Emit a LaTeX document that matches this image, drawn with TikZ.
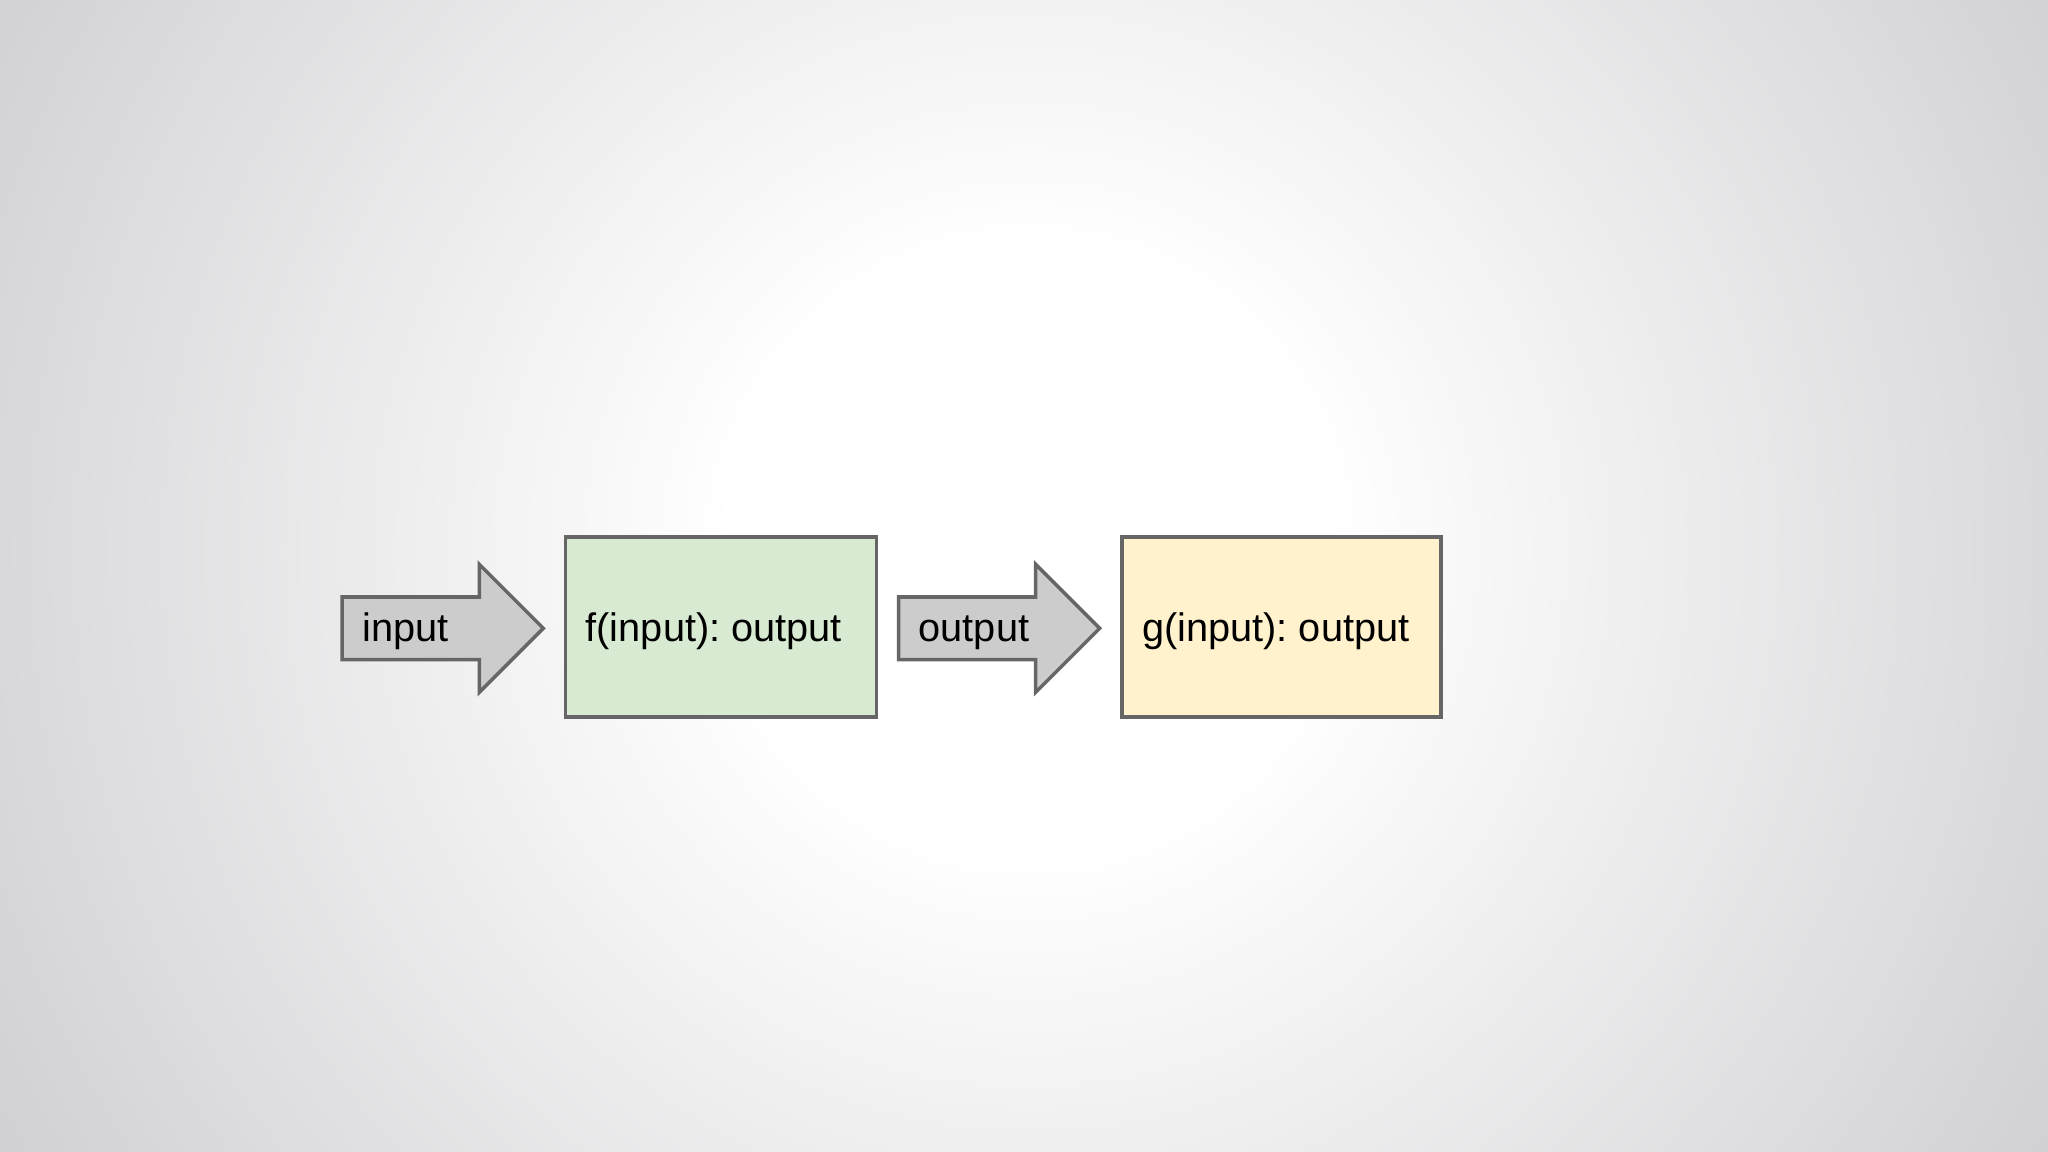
\documentclass[tikz,border=0pt]{standalone}
\usepackage{fontspec}
\setmainfont{Liberation Sans}
\definecolor{bgedge}{HTML}{D0D0D3}
\definecolor{arrowfill}{HTML}{CCCCCC}
\definecolor{strokec}{HTML}{666666}
\definecolor{greenfill}{HTML}{D9EAD3}
\definecolor{yellowfill}{HTML}{FFF2CC}
\pgfdeclareradialshading{bgshade}{\pgfpoint{0bp}{0bp}}{color(0bp)=(white); color(6.25bp)=(white); color(25bp)=(bgedge); color(50bp)=(bgedge)}
\begin{document}
\begin{tikzpicture}[x=0.01cm,y=-0.01cm,
  lbl/.style={font=\fontsize{11.3}{13}\selectfont, inner sep=0pt, anchor=base west},
  fbox/.style={draw=strokec, line width=1pt, minimum height=1.802cm, inner sep=0pt},
  fatarrow/.style={draw=strokec, fill=arrowfill, line width=1pt, line join=miter}]
% background
\useasboundingbox (0,0) rectangle (2048,1152);
\begin{scope}
\clip (0,0) rectangle (2048,1152);
\shade[shading=bgshade] (1030,550) circle (1200);
\end{scope}
% arrow 1
\coordinate (a1) at (342.2,628.3);
\draw[fatarrow] (a1) ++(0,-31.3) -- ++(137.1,0) -- ++(0,-32.7) -- ++(64,64) -- ++(-64,64) -- ++(0,-32.7) -- ++(-137.1,0) -- cycle;
\node[lbl] (tin) at (361.8,642) {input};
% box 1
\node[fbox, fill=greenfill, minimum width=3.109cm] (f) at (721,627) {};
\node[lbl] (ftext) at (585,642) {f(input):\ output};
% arrow 2
\coordinate (a2) at (898.6,628.3);
\draw[fatarrow] (a2) ++(0,-31.3) -- ++(137.1,0) -- ++(0,-32.7) -- ++(64,64) -- ++(-64,64) -- ++(0,-32.7) -- ++(-137.1,0) -- cycle;
\node[lbl] (tout) at (918,642) {output};
% box 2
\node[fbox, fill=yellowfill, minimum width=3.187cm] (g) at (1281.3,627) {};
\node[lbl] (gtext) at (1141.5,642) {g(input):\ output};
\end{tikzpicture}
\end{document}
